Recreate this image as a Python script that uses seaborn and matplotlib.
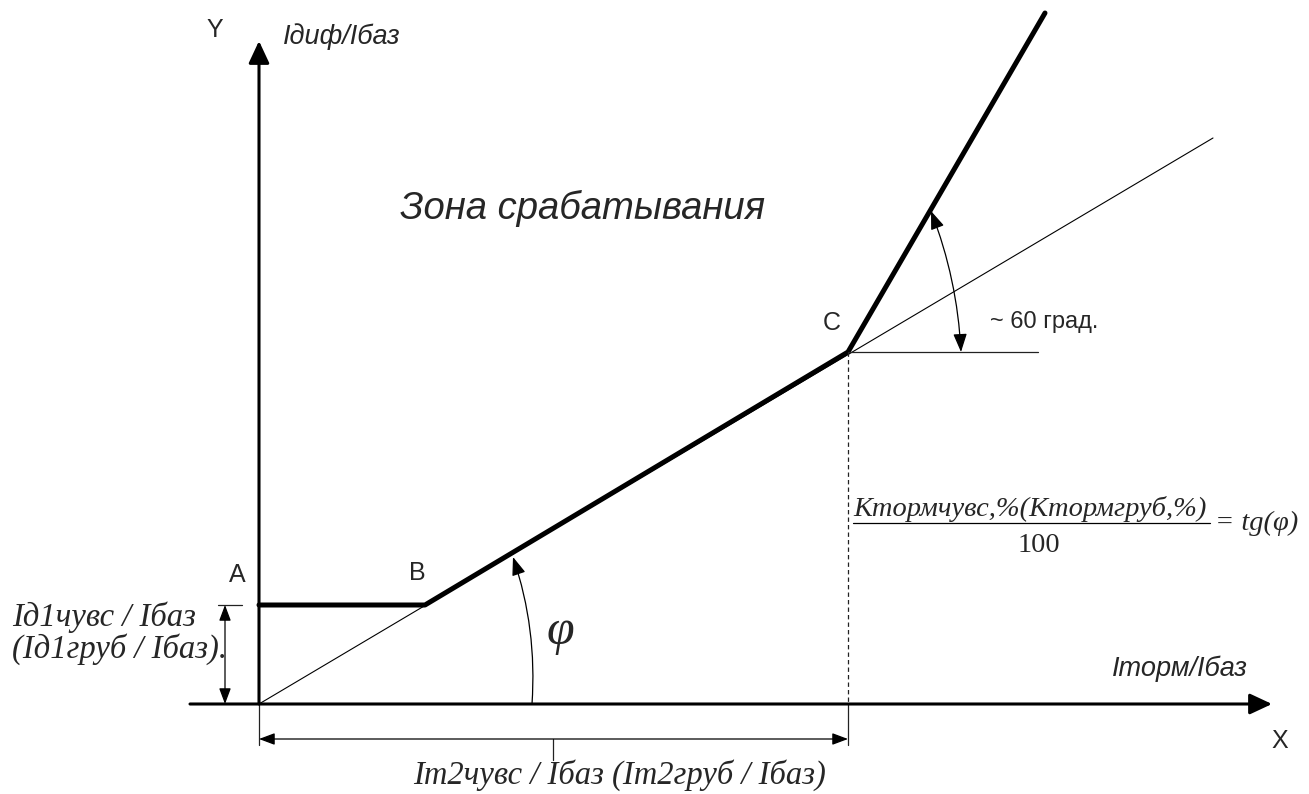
import matplotlib
matplotlib.use("Agg")
import matplotlib.pyplot as plt
import seaborn as sns

# Тормозная характеристика в относительных единицах (Iторм/Iбаз, Iдиф/Iбаз)
char_x = [0.0, 1.66, 5.89, 7.86]      # A, B, C, конец крутого участка
char_y = [0.99, 0.99, 3.52, 6.91]
ray_x = [0.0, 9.54]                    # луч из начала координат через B и C
ray_y = [0.0, 5.66]
id1 = 0.99                             # Iд1 / Iбаз
it2 = 5.89                             # Iт2 / Iбаз
c_y = 3.52

point_names = ["A", "B", "C"]
zone_label = "Зона срабатывания"
angle_label = "~ 60 град."
x_name, y_name = "X", "Y"
x_label = "Iторм/Iбаз"
y_label = "Iдиф/Iбаз"
id1_label = ["Iд1чувс / Iбаз", "(Iд1груб / Iбаз)."]
it2_label = "Iт2чувс / Iбаз (Iт2груб / Iбаз)"
k_num = "Ктормчувс,%(Ктормгруб,%)"
k_den = "100"
k_rhs = "= tg(φ)"

sns.set_theme(style="white")
plt.rcParams["font.family"] = ["Liberation Sans", "DejaVu Sans"]
serif = ["Liberation Serif", "DejaVu Serif"]

fig = plt.figure(figsize=(13.09, 7.94), dpi=100)
ax = fig.add_axes([0, 0, 1, 1])
ax.set_xlim(-2.59, 10.50)
ax.set_ylim(-0.90, 7.04)
ax.axis("off")


def arrow(p0, p1, style, lw, ms, rad=0.0, color="black"):
    ax.annotate("", xy=p1, xytext=p0,
                arrowprops=dict(arrowstyle=style, color=color, lw=lw,
                                mutation_scale=ms, shrinkA=0, shrinkB=0,
                                connectionstyle=f"arc3,rad={rad}"))


# оси
arrow((0, 0), (0, 6.63), "-|>,head_length=0.9,head_width=0.42", 2.2, 15)
arrow((-0.69, 0), (10.13, 0), "-|>,head_length=0.9,head_width=0.42", 2.2, 15)

# луч и характеристика
sns.lineplot(x=ray_x, y=ray_y, sort=False, color="black", lw=0.8, ax=ax)
sns.lineplot(x=char_x, y=char_y, sort=False, color="black", lw=3.6, ax=ax)

thin = dict(color="#222222", lw=0.9)
ax.plot([it2, it2], [c_y, 0], ls=(0, (3.5, 2.5)), **thin)
ax.plot([it2, it2], [0, -0.41], **thin)
ax.plot([0, 0], [0, -0.41], **thin)
ax.plot([2.94, 2.94], [-0.35, -0.56], **thin)
ax.plot([-0.41, -0.17], [id1, id1], **thin)
ax.plot([it2, 7.79], [c_y, c_y], **thin)

# размерные стрелки
dim = "<|-|>,head_length=0.8,head_width=0.3"
arrow((0, -0.35), (it2, -0.35), dim, 0.9, 12)
arrow((-0.34, 0), (-0.34, id1), dim, 0.9, 12)

# дуги углов
arrow((2.73, 0.0), (2.54, 1.47), "-|>,head_length=0.8,head_width=0.3", 0.9, 14, rad=0.1)
arrow((6.72, 4.93), (7.02, c_y), "<|-|>,head_length=0.8,head_width=0.3", 0.9, 14, rad=-0.08)

# подписи
ax.text(-0.44, 6.74, y_name, fontsize=18, ha="center", va="center")
ax.text(0.24, 6.67, y_label, fontsize=19.5, style="italic", ha="left", va="center")
ax.text(10.21, -0.37, x_name, fontsize=18, ha="center", va="center")
ax.text(8.53, 0.35, x_label, fontsize=19.5, style="italic", ha="left", va="center")
ax.text(1.41, 4.96, zone_label, fontsize=27.5, style="italic", ha="left", va="center")

ax.text(-0.22, 1.29, point_names[0], fontsize=18, ha="center", va="center")
ax.text(1.58, 1.31, point_names[1], fontsize=18, ha="center", va="center")
ax.text(5.73, 3.81, point_names[2], fontsize=18, ha="center", va="center")
ax.text(7.31, 3.82, angle_label, fontsize=17, ha="left", va="center")

ax.text(3.01, 0.72, "φ", fontsize=36, family=serif, style="italic", ha="center", va="center")

ax.text(-2.47, 0.87, id1_label[0], fontsize=23.5, family=serif, style="italic", ha="left", va="center")
ax.text(-2.47, 0.55, id1_label[1], fontsize=23.5, family=serif, style="italic", ha="left", va="center")
ax.text(3.61, -0.71, it2_label, fontsize=23.5, family=serif, style="italic", ha="center", va="center")

ax.text(7.71, 1.95, k_num, fontsize=20.5, family=serif, style="italic", ha="center", va="center")
ax.plot([5.94, 9.51], [1.81, 1.81], color="black", lw=0.9)
ax.text(7.80, 1.59, k_den, fontsize=20.5, family=serif, ha="center", va="center")
ax.text(9.56, 1.81, k_rhs, fontsize=20.5, family=serif, style="italic", ha="left", va="center")

fig.savefig("out.png", dpi=100, facecolor="white")
